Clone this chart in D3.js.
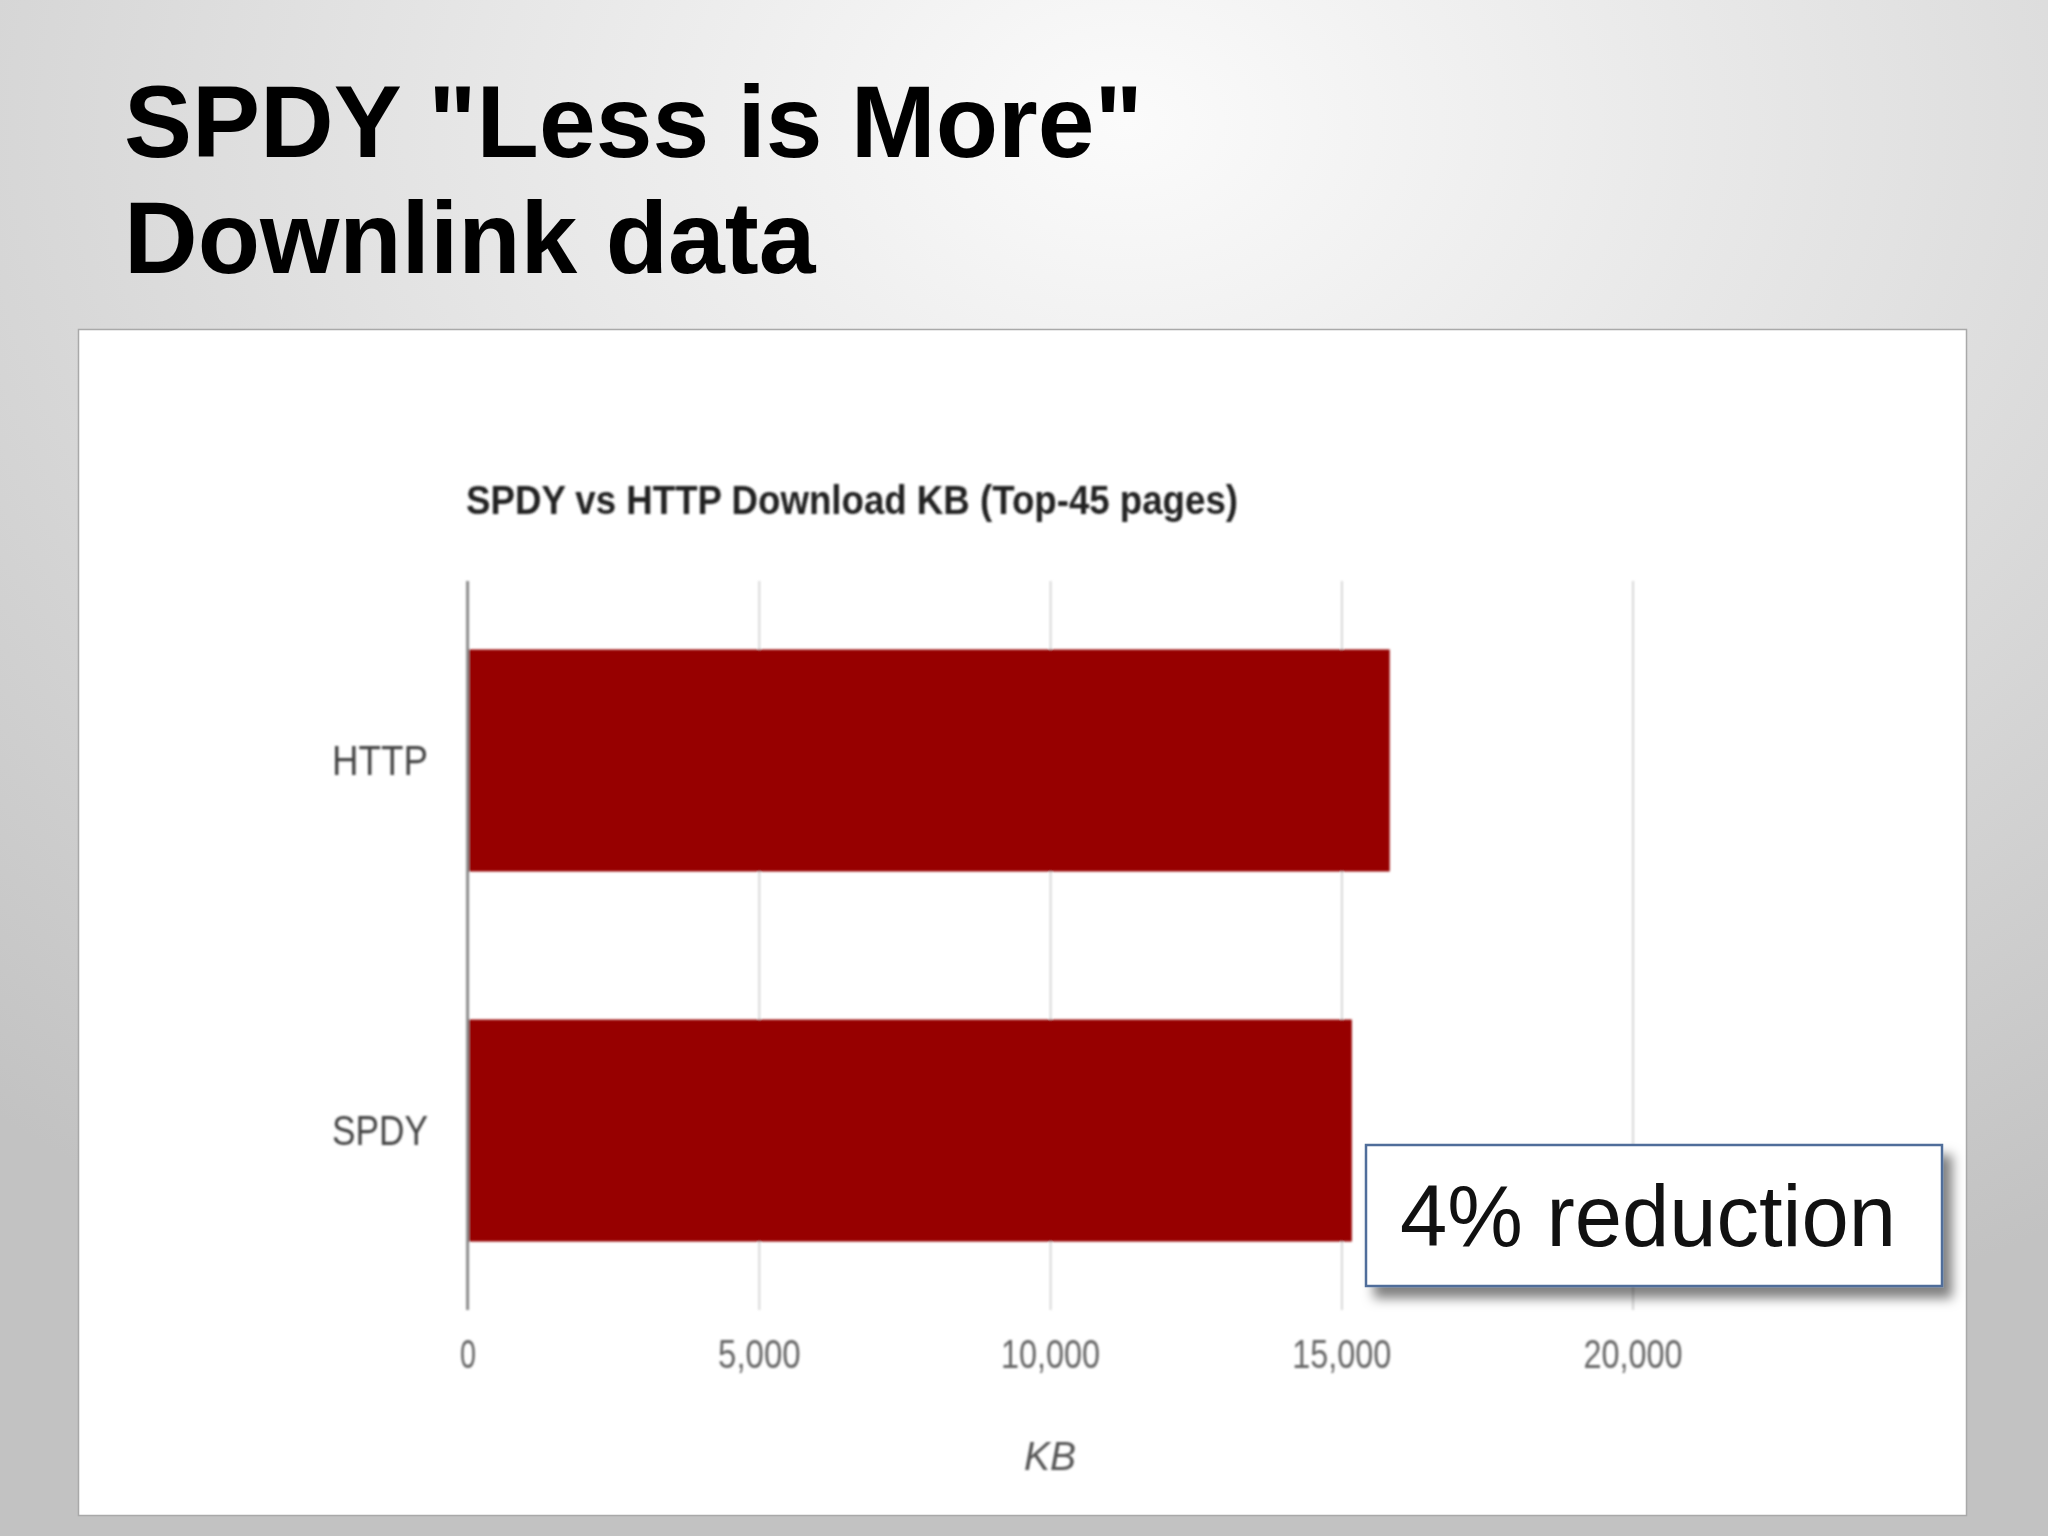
<!DOCTYPE html>
<html>
<head>
<meta charset="utf-8">
<script src="https://cdn.jsdelivr.net/npm/d3@7"></script>
<style>
  html, body { margin: 0; padding: 0; background: #fff; }
  svg { display: block; }
</style>
</head>
<body>
<div id="slide"></div>
<script>
// Data.
const categories = ["HTTP", "SPDY"];
const downloadKB = [15830, 15180];
const xTicks = [0, 5000, 10000, 15000, 20000];
const slideTitle = ['SPDY "Less is More"', "Downlink data"];
const chartTitle = "SPDY vs HTTP Download KB (Top-45 pages)";
const axisTitle = "KB";
const note = "4% reduction";

(function () {
  const W = 2048, H = 1536;
  const FONT = "'Liberation Sans', Arial, Helvetica, sans-serif";

  const svg = d3.select("#slide").append("svg")
    .attr("width", W).attr("height", H)
    .attr("viewBox", `0 0 ${W} ${H}`);

  const defs = svg.append("defs");

  // Slide background: soft radial fade from near-white to grey.
  const bg = defs.append("radialGradient").attr("id", "bg")
    .attr("cx", "55%").attr("cy", "8%").attr("r", "85%");
  bg.append("stop").attr("offset", "0%").attr("stop-color", "#fbfbfb");
  bg.append("stop").attr("offset", "45%").attr("stop-color", "#e2e2e2");
  bg.append("stop").attr("offset", "100%").attr("stop-color", "#c2c2c2");

  const shadow = defs.append("filter").attr("id", "shadow")
    .attr("x", "-10%").attr("y", "-10%").attr("width", "130%").attr("height", "140%");
  shadow.append("feDropShadow")
    .attr("dx", 9).attr("dy", 11).attr("stdDeviation", 6)
    .attr("flood-color", "#000").attr("flood-opacity", 0.5);

  const soft = defs.append("filter").attr("id", "soft");
  soft.append("feGaussianBlur").attr("stdDeviation", 0.9);

  svg.append("rect").attr("width", W).attr("height", H).attr("fill", "url(#bg)");

  // Slide heading.
  svg.append("g").selectAll("text")
    .data(slideTitle)
    .join("text")
    .attr("x", 124)
    .attr("y", (d, i) => 157 + i * 116)
    .attr("fill", "#000")
    .style("font", `bold 102px ${FONT}`)
    .text((d) => d);

  // White panel holding the chart screenshot.
  svg.append("rect")
    .attr("x", 78.5).attr("y", 329.5)
    .attr("width", 1888).attr("height", 1186)
    .attr("fill", "#ffffff")
    .attr("stroke", "#a9a9a9").attr("stroke-width", 1.5);

  const chart = svg.append("g").attr("filter", "url(#soft)");

  const x = d3.scaleLinear().domain([0, 20000]).range([467.6, 1632.6]);
  const y = d3.scaleBand().domain(categories).range([581, 1310])
    .paddingInner(0.4).paddingOuter(0.185);

  chart.append("text")
    .attr("x", 466).attr("y", 500)
    .attr("dominant-baseline", "central")
    .attr("fill", "#222")
    .attr("textLength", 772).attr("lengthAdjust", "spacingAndGlyphs")
    .style("font", `bold 41px ${FONT}`)
    .text(chartTitle);

  // Vertical gridlines + tick labels.
  const xAxis = chart.append("g")
    .attr("transform", `translate(0,${y.range()[1]})`)
    .call(d3.axisBottom(x).tickValues(xTicks)
      .tickSize(-(y.range()[1] - y.range()[0]))
      .tickFormat(d3.format(",")));
  xAxis.select(".domain").remove();
  xAxis.selectAll(".tick line").attr("stroke", "#cfcfcf").attr("stroke-width", 1.6);
  xAxis.selectAll(".tick text")
    .attr("y", 44).attr("dy", "0.35em")
    .attr("fill", "#666")
    .style("font", `40px ${FONT}`)
    .attr("textLength", (d) => (d === 0 ? 16 : d3.format(",")(d).length * 16.5))
    .attr("lengthAdjust", "spacingAndGlyphs");

  // Bars.
  chart.append("g").selectAll("rect")
    .data(categories)
    .join("rect")
    .attr("x", x(0))
    .attr("y", (d) => y(d))
    .attr("width", (d, i) => x(downloadKB[i]) - x(0))
    .attr("height", y.bandwidth())
    .attr("fill", "#970000");

  // Baseline axis at zero.
  chart.append("line")
    .attr("x1", x(0)).attr("x2", x(0))
    .attr("y1", y.range()[0]).attr("y2", y.range()[1])
    .attr("stroke", "#8a8a8a").attr("stroke-width", 3);

  // Category labels.
  chart.append("g").selectAll("text")
    .data(categories)
    .join("text")
    .attr("x", 428)
    .attr("y", (d) => y(d) + y.bandwidth() / 2)
    .attr("text-anchor", "end")
    .attr("dominant-baseline", "central")
    .attr("fill", "#444")
    .attr("textLength", 96).attr("lengthAdjust", "spacingAndGlyphs")
    .style("font", `42px ${FONT}`)
    .text((d) => d);

  chart.append("text")
    .attr("x", (x.range()[0] + x.range()[1]) / 2)
    .attr("y", 1456)
    .attr("text-anchor", "middle")
    .attr("dominant-baseline", "central")
    .attr("fill", "#555")
    .attr("textLength", 52).attr("lengthAdjust", "spacingAndGlyphs")
    .style("font", `italic 40px ${FONT}`)
    .text(axisTitle);

  // Callout box.
  const box = svg.append("g").attr("transform", "translate(1366,1145)");
  box.append("rect")
    .attr("width", 576).attr("height", 141)
    .attr("fill", "#fff")
    .attr("stroke", "#4f6d9a").attr("stroke-width", 2.5)
    .attr("filter", "url(#shadow)");
  box.append("text")
    .attr("x", 34).attr("y", 70)
    .attr("dominant-baseline", "central")
    .attr("fill", "#111")
    .attr("textLength", 496).attr("lengthAdjust", "spacingAndGlyphs")
    .style("font", `88px ${FONT}`)
    .text(note);
})();
</script>
</body>
</html>
